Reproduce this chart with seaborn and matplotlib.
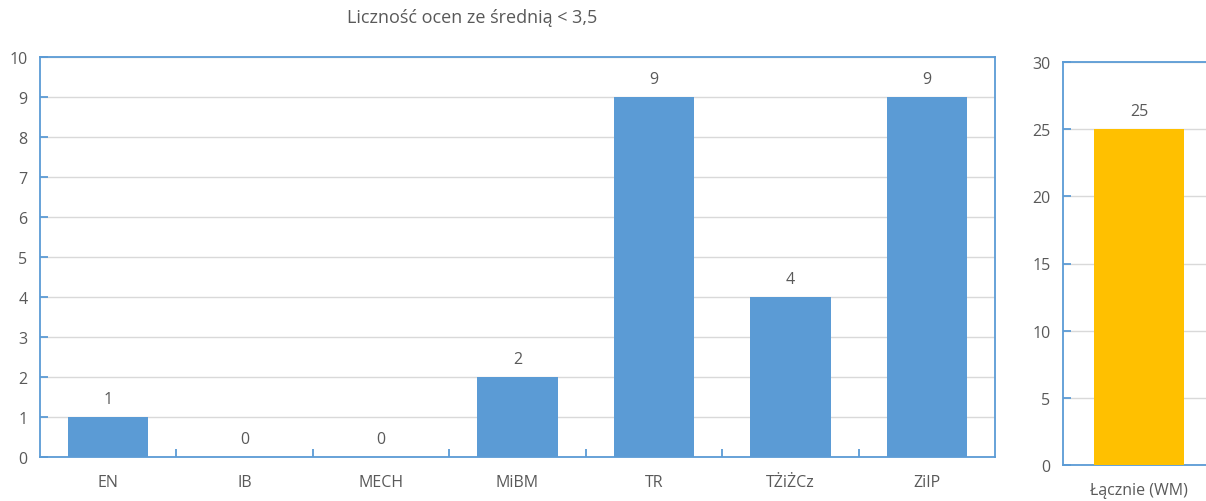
import matplotlib
matplotlib.use("Agg")
import matplotlib.pyplot as plt
import seaborn as sns
import pandas as pd

categories = ["EN", "IB", "MECH", "MiBM", "TR", "TŻiŻCz", "ZiIP"]
values = [1, 0, 0, 2, 9, 4, 9]
total_label = ["Łącznie (WM)"]
total_value = [25]
title = "Liczność ocen ze średnią < 3,5"

sns.set_theme(style="white")
plt.rcParams['font.family'] = ['Open Sans', 'DejaVu Sans']

BLUE = "#5B9BD5"
ORANGE = "#FFC000"
TXT = "#595959"
GRID = "#D9D9D9"
FS = 11.5

fig = plt.figure(figsize=(12.06, 5.02), dpi=100)
ax1 = fig.add_axes([40/1206, 44/502, 955/1206, 400/502])
ax2 = fig.add_axes([1063/1206, 36/502, 152/1206, 403/502])

df1 = pd.DataFrame({"cat": categories, "val": values})
df2 = pd.DataFrame({"cat": total_label, "val": total_value})

sns.barplot(data=df1, x="cat", y="val", color=BLUE, width=0.59, ax=ax1,
            saturation=1, linewidth=0, zorder=3)
sns.barplot(data=df2, x="cat", y="val", color=ORANGE, width=0.59, ax=ax2,
            saturation=1, linewidth=0, zorder=3)

def style(ax, ymax, step, n):
    ax.set_ylim(0, ymax)
    ax.set_xlim(-0.5, n - 0.5)
    ax.set_yticks(range(0, ymax + 1, step))
    ax.set_xlabel("")
    ax.set_ylabel("")
    ax.yaxis.grid(True, color=GRID, linewidth=1, zorder=0)
    ax.set_axisbelow(True)
    for s in ax.spines.values():
        s.set_visible(True)
        s.set_color(BLUE)
        s.set_linewidth(1.3)
    ax.tick_params(axis="y", direction="in", length=6, color=BLUE, width=1.3,
                   labelsize=FS, labelcolor=TXT, pad=9, left=True)
    ax.tick_params(axis="x", length=0, labelsize=FS, labelcolor=TXT, pad=12)

style(ax1, 10, 1, len(categories))
style(ax2, 30, 5, 1)

# category boundary ticks on main x axis
ax1.set_xticks([i + 0.5 for i in range(len(categories) - 1)], minor=True)
ax1.tick_params(axis="x", which="minor", direction="in", length=6,
                color=BLUE, width=1.3, bottom=True)

for c in ax1.containers:
    ax1.bar_label(c, labels=[str(v) for v in values], padding=7,
                  fontsize=FS, color=TXT)
for c in ax2.containers:
    ax2.bar_label(c, labels=[str(v) for v in total_value], padding=7,
                  fontsize=FS, color=TXT)

fig.text(472/1206, 1 - 18/502, title, ha="center", va="center",
         fontsize=13, color=TXT)

fig.savefig("out.png", dpi=100)
